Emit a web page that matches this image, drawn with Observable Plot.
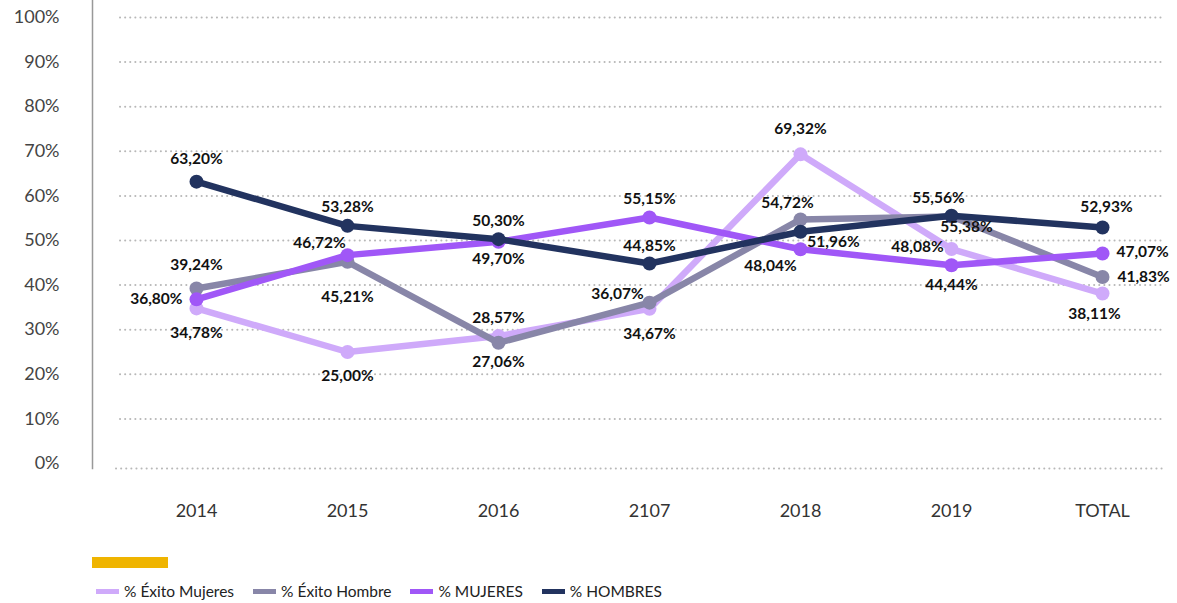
<!DOCTYPE html>
<html><head><meta charset="utf-8">
<script src="https://cdn.jsdelivr.net/npm/d3@7"></script>
<script src="https://cdn.jsdelivr.net/npm/@observablehq/plot@0.6"></script>
<style>
body{margin:0;background:#fff;font-family:Lato,"Open Sans",sans-serif;}
#chart svg{display:block;}
#bar{margin-left:92px;margin-top:17px;width:76px;height:11px;background:#efb400;}
#legend{display:flex;align-items:center;margin-left:96px;margin-top:13px;height:20px;font-size:15.5px;color:#222;}
#legend .item{display:flex;align-items:center;margin-right:19px;}
#legend .sw{display:inline-block;width:23px;height:5px;margin-right:5px;}
</style></head><body>
<div id="chart"></div>
<div id="bar"></div>
<div id="legend"></div>
<script>
// ---- data ----
const categories = ["2014","2015","2016","2107","2018","2019","TOTAL"];
const exitoMujeres = [34.78, 25.00, 28.57, 34.67, 69.32, 48.08, 38.11];
const exitoHombre  = [39.24, 45.21, 27.06, 36.07, 54.72, 55.38, 41.83];
const mujeres      = [36.80, 46.72, 49.70, 55.15, 48.04, 44.44, 47.07];
const hombres      = [63.20, 53.28, 50.30, 44.85, 51.96, 55.56, 52.93];
const seriesNames  = ["% Éxito Mujeres", "% Éxito Hombre", "% MUJERES", "% HOMBRES"];
const yTicks = [0, 10, 20, 30, 40, 50, 60, 70, 80, 90, 100];

// ---- styles ----
const colors = ["#cfaafa", "#8886a8", "#a057f7", "#22335f"];
// label placement per point: [dx, dy, anchor]
const labelPlace = [
  [[0,25,"middle"],[0,24,"middle"],[0,-18,"middle"],[0,25,"middle"],[0,-25,"middle"],[-34,-2,"middle"],[-8,21,"middle"]],
  [[0,-23,"middle"],[0,35,"middle"],[0,19,"middle"],[-32,-9,"middle"],[-13,-16,"middle"],[15,11,"middle"],[15,0,"start"]],
  [[-14,0,"end"],[-28,-12,"middle"],[0,17,"middle"],[0,-18,"middle"],[-30,17,"middle"],[0,20,"middle"],[14,-2,"start"]],
  [[0,-23,"middle"],[0,-19,"middle"],[0,-18,"middle"],[0,-17,"middle"],[33,10,"middle"],[-13,-18,"middle"],[4,-20,"middle"]]
];

const seriesValues = [exitoMujeres, exitoHombre, mujeres, hombres];
const fmt = v => v.toFixed(2).replace(".", ",") + "%";

const marks = [
  Plot.ruleY(yTicks.filter(d => d > 0), {stroke:"#b8b8b8", strokeWidth:2, strokeDasharray:"0.1,5", strokeLinecap:"round", insetLeft:28}),
  Plot.ruleY([0], {dy:5, stroke:"#b8b8b8", strokeWidth:2, strokeDasharray:"0.1,5", strokeLinecap:"round", insetLeft:24}),
  Plot.frame({anchor:"left", stroke:"#999", strokeWidth:1.5}),
  Plot.axisY({ticks: yTicks, tickFormat: d => d + "%", tickSize:0, tickPadding:33, fontSize:18, fontWeight:400, fill:"#444", label:null}),
  Plot.axisX({tickSize:0, tickPadding:36, fontSize:18, fontWeight:400, fill:"#333", label:null})
];

seriesValues.forEach((vals, i) => {
  const rows = categories.map((c, j) => ({cat:c, value:vals[j]}));
  marks.push(Plot.line(rows, {x:"cat", y:"value", stroke:colors[i], strokeWidth:6.5, strokeLinejoin:"round", strokeLinecap:"round"}));
  marks.push(Plot.dot(rows, {x:"cat", y:"value", r:7, fill:colors[i]}));
});

seriesValues.forEach((vals, i) => {
  categories.forEach((c, j) => {
    const [dx, dy, anchor] = labelPlace[i][j];
    marks.push(Plot.text([{cat:c, value:vals[j]}], {
      x:"cat", y:"value", text: d => fmt(d.value), dx, dy, textAnchor:anchor,
      fontSize:15.5, fontWeight:"bold", fill:"#111"
    }));
  });
});

const chart = Plot.plot({
  width:1177, height:540,
  marginLeft:92, marginRight:12, marginTop:0, marginBottom:72,
  x:{type:"point", domain:categories, range:[195,1103], padding:0},
  y:{domain:[0,100], range:[463,17]},
  style:{fontFamily:"Lato, 'Open Sans', sans-serif", color:"#111", background:"#fff"},
  marks
});
document.getElementById("chart").appendChild(chart);

const legend = document.getElementById("legend");
seriesNames.forEach((n, i) => {
  const it = document.createElement("div");
  it.className = "item";
  it.innerHTML = `<span class="sw" style="background:${colors[i]}"></span><span>${n}</span>`;
  legend.appendChild(it);
});
</script>
</body></html>
